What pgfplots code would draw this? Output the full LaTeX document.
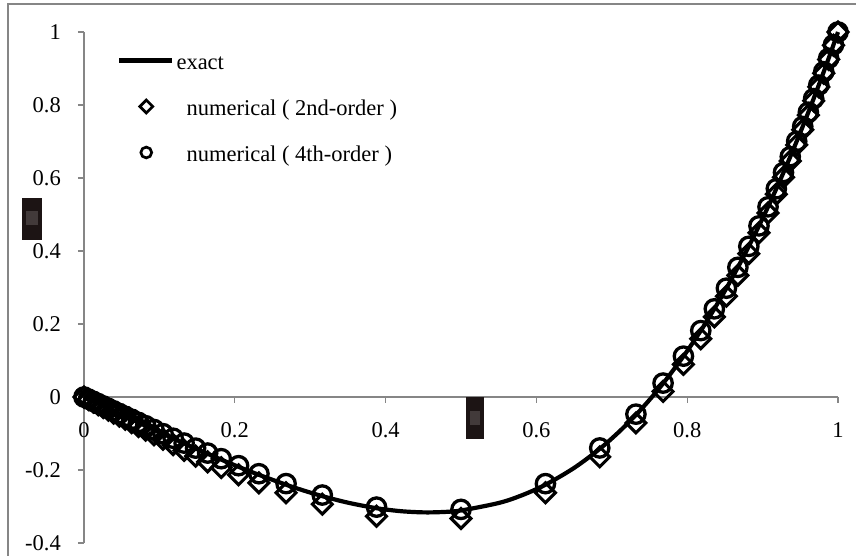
\documentclass[border=0pt]{standalone}
\usepackage{fontspec}
\setmainfont{Liberation Serif}
\usepackage{pgfplots}
\usepackage{pgfplotstable}
\pgfplotsset{compat=1.18}

\definecolor{axisgray}{RGB}{134,134,134}
\definecolor{imgdark}{RGB}{28,20,20}
\definecolor{imgmid}{RGB}{92,84,84}

% exact solution
\pgfplotstableread{
x y
0 0
0.0124 -0.0120
0.0255 -0.0247
0.0393 -0.0381
0.0548 -0.0531
0.0723 -0.0699
0.0928 -0.0895
0.1183 -0.1136
0.148 -0.1411
0.182 -0.1715
0.205 -0.1912
0.232 -0.2132
0.268 -0.2403
0.29 -0.2554
0.316 -0.2716
0.35 -0.2895
0.388 -0.3047
0.42 -0.3128
0.45 -0.3161
0.475 -0.3152
0.5 -0.3109
0.55 -0.2904
0.58 -0.2699
0.612 -0.2404
0.65 -0.1943
0.684 -0.1421
0.71 -0.0946
0.732 -0.0490
0.75 -0.0078
0.768 0.0371
0.795 0.1114
0.818 0.1817
0.836 0.2415
0.852 0.2981
0.8672 0.3552
0.8817 0.4127
0.8952 0.4688
0.9072 0.5210
0.9182 0.5706
0.9277 0.6151
0.9367 0.6584
0.9452 0.7005
0.9532 0.7411
0.9607 0.7803
0.9677 0.8175
0.9745 0.8545
0.9811 0.8911
0.9876 0.9278
0.994 0.9648
1 1
}\exact

% numerical solutions on the stretched grid
\pgfplotstableread{
x second fourth
0 0 0
0.006 -0.0068 -0.0058
0.0124 -0.0140 -0.0120
0.0189 -0.0213 -0.0183
0.0255 -0.0287 -0.0247
0.0323 -0.0363 -0.0313
0.0393 -0.0441 -0.0380
0.0468 -0.0524 -0.0452
0.0548 -0.0611 -0.0529
0.0633 -0.0703 -0.0611
0.0723 -0.0809 -0.0697
0.0818 -0.0910 -0.0787
0.0928 -0.1035 -0.0891
0.1048 -0.1159 -0.1004
0.1183 -0.1306 -0.1130
0.1328 -0.1461 -0.1263
0.148 -0.1621 -0.1401
0.164 -0.1776 -0.1536
0.182 -0.1935 -0.1690
0.205 -0.2132 -0.1882
0.232 -0.2352 -0.2102
0.268 -0.2623 -0.2373
0.316 -0.2936 -0.2686
0.388 -0.3267 -0.3017
0.5 -0.3329 -0.3079
0.612 -0.2624 -0.2374
0.684 -0.1641 -0.1396
0.732 -0.0710 -0.0470
0.768 0.0151 0.0381
0.795 0.0894 0.1119
0.818 0.1597 0.1819
0.836 0.2195 0.2415
0.852 0.2761 0.2981
0.8672 0.3332 0.3552
0.8817 0.3927 0.4127
0.8952 0.4498 0.4688
0.9072 0.5040 0.5210
0.9182 0.5556 0.5706
0.9277 0.6021 0.6151
0.9367 0.6464 0.6584
0.9452 0.6905 0.7005
0.9532 0.7321 0.7411
0.9607 0.7723 0.7803
0.9677 0.8115 0.8175
0.9745 0.8495 0.8545
0.9811 0.8871 0.8911
0.9876 0.9248 0.9278
0.994 0.9638 0.9648
1 1 1
}\numerical

\newcommand{\chartfont}{\fontsize{22.5}{27}\selectfont}

\begin{document}
\begin{tikzpicture}
\path[use as bounding box] (-84pt,-13pt) rectangle (772pt,543pt);
\begin{scope}
  \clip (-84pt,-13pt) rectangle (772pt,543pt);
  \draw[axisgray, line width=1.6pt] (-76pt,-60pt) rectangle (820pt,539pt);
\end{scope}
\begin{axis}[
  at={(0pt,0pt)}, anchor=south west,
  scale only axis, width=754pt, height=511pt,
  xmin=0, xmax=1, ymin=-0.4, ymax=1,
  axis x line=middle, axis y line=left,
  axis line style={-, draw=axisgray, line width=1.2pt},
  xtick={0,0.2,0.4,0.6,0.8,1},
  xticklabels={0,0.2,0.4,0.6,0.8,1},
  ytick={-0.4,-0.2,0,0.2,0.4,0.6,0.8,1},
  yticklabels={-0.4,-0.2,0,0.2,0.4,0.6,0.8,1},
  tick style={draw=axisgray, line width=1.2pt},
  major tick length=6pt,
  tick align=outside,
  hide obscured x ticks=false, hide obscured y ticks=false,
  ticklabel style={font=\chartfont, inner sep=0pt},
  xticklabel style={anchor=north, yshift=-19pt},
  yticklabel style={anchor=east, xshift=-17pt},
  clip=false,
  legend cell align=left,
  legend style={draw=none, fill=none, inner sep=0pt, outer sep=0pt,
    at={(rel axis cs:0.0438,0.9726)}, anchor=north west,
    font=\chartfont, row sep=17pt, column sep=12pt,
    nodes={inner sep=0pt, text height=24pt, text depth=5pt}},
]
\addplot[black, line width=4.2pt, smooth,
  legend image code/.code={
    \path[draw=none, fill=none] (0pt,-7pt) rectangle (53pt,7pt);
    \draw[black, line width=4.5pt] (0pt,0pt) -- (53pt,0pt);}]
  table[x=x, y=y] {\exact};
\addlegendentry{\hspace{-10pt}exact}

\addplot[only marks, black, line width=3.1pt, mark=square, mark size=7pt,
  mark options={rotate=45, black, line width=3.1pt},
  legend image code/.code={
    \path[draw=none, fill=none] (0pt,-7pt) rectangle (53pt,7pt);
    \draw[black, line width=2.7pt] (27pt,6.4pt) -- (33.4pt,0pt) -- (27pt,-6.4pt) -- (20.6pt,0pt) -- cycle;}]
  table[x=x, y=second] {\numerical};
\addlegendentry{numerical ( 2nd-order )}

\addplot[only marks, black, line width=3.3pt, mark=o, mark size=9.2pt,
  mark options={black, line width=3.3pt},
  legend image code/.code={
    \path[draw=none, fill=none] (0pt,-7pt) rectangle (53pt,7pt);
    \draw[black, line width=2.7pt] (27pt,0pt) circle (5.4pt);}]
  table[x=x, y=fourth] {\numerical};
\addlegendentry{numerical ( 4th-order )}
\end{axis}
% embedded axis-title images
\fill[imgdark] (-62pt,303pt) rectangle (-42pt,345pt);
\fill[imgmid, opacity=0.6] (-58pt,318pt) rectangle (-46pt,332pt);
\fill[imgdark] (382pt,104pt) rectangle (400pt,146pt);
\fill[imgmid, opacity=0.6] (386pt,118pt) rectangle (396pt,132pt);
\end{tikzpicture}
\end{document}
